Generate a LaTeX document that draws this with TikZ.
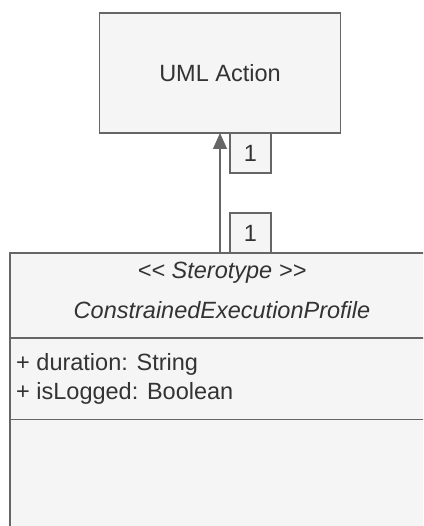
\documentclass[tikz,border=0pt]{standalone}
\usepackage{fontspec}
\setmainfont{Liberation Sans}
\usetikzlibrary{arrows.meta}
\definecolor{strk}{HTML}{666666}
\definecolor{fil}{HTML}{F5F5F5}
\definecolor{txt}{HTML}{333333}
\tikzset{
  umlbox/.style={draw=strk, fill=fil, line width=1.2pt, rectangle, inner sep=0pt, outer sep=0pt},
  txtstyle/.style={text=txt, inner sep=0pt, font=\fontsize{23.5}{28}\selectfont},
  multbox/.style={umlbox, minimum width=41pt, minimum height=40pt, txtstyle},
  conn/.style={draw=strk, line width=1.2pt}
}
\begin{document}
\begin{tikzpicture}[x=1pt,y=-1pt]
\useasboundingbox (0,0) rectangle (423,526);
\clip (0,0) rectangle (423,526);
\fill[white] (0,0) rectangle (423,526);
% UML Action
\node[umlbox, minimum width=241pt, minimum height=120pt, txtstyle] (action) at (220,73) {UML Action};
% class box
\node[umlbox, minimum width=424pt, minimum height=320pt] (cls) at (222,413) {};
\coordinate (sep1) at (0,338);
\coordinate (sep2) at (0,419.5);
\draw[conn] (cls.west |- sep1) -- (cls.east |- sep1);
\draw[conn] (cls.west |- sep2) -- (cls.east |- sep2);
\node[txtstyle, font=\fontsize{23.5}{28}\itshape] (stereo) at (222,273) {{<}{<} Sterotype {>}{>}};
\node[txtstyle, font=\fontsize{23.5}{28}\itshape] (cname) at (222,310) {ConstrainedExecutionProfile};
\node[txtstyle, anchor=west] (attr1) at (16,364) {+ duration: String};
\node[txtstyle, anchor=west] (attr2) at (16,393) {+ isLogged: Boolean};
% connector
\draw[conn, -{Triangle[width=14pt,length=16pt]}] (cls.north -| action.south) -- (action.south);
% multiplicities
\node[multbox] (m1) at (250.5,153) {1};
\node[multbox] (m2) at (250.5,233) {1};
\end{tikzpicture}
\end{document}
